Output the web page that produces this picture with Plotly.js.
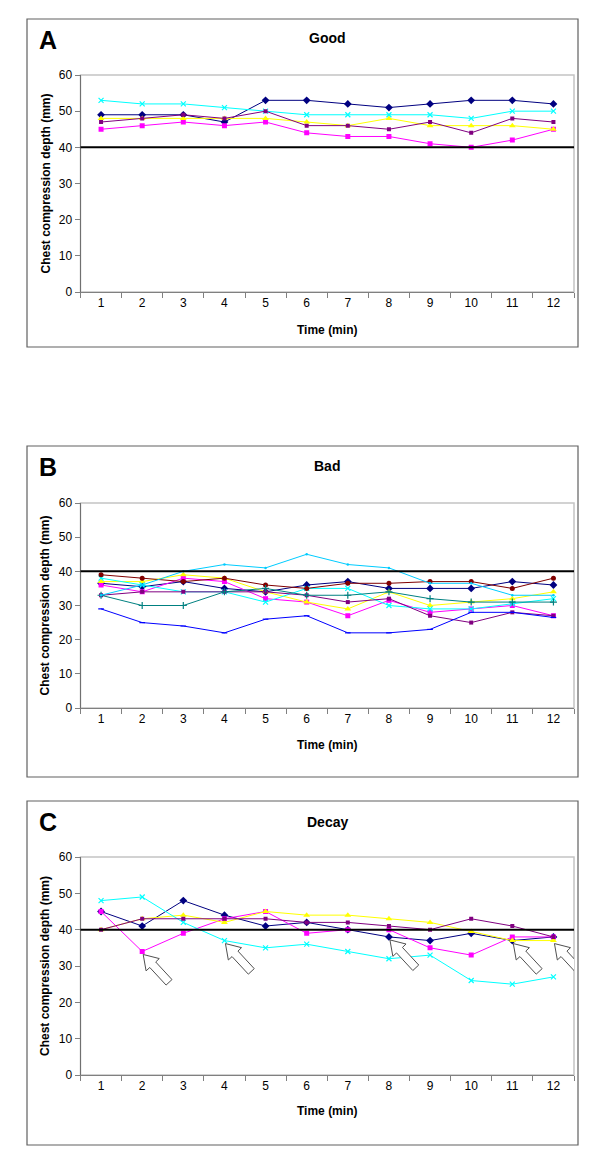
<!DOCTYPE html>
<html>
<head>
<meta charset="utf-8">
<script src="https://cdn.plot.ly/plotly-3.0.1.min.js"></script>
<style>html,body{margin:0;padding:0;background:#fff;}#chart{width:600px;height:1156px;}</style>
</head>
<body>
<div id="chart"></div>
<script>
// ---------- DATA ----------
const minutes = [1,2,3,4,5,6,7,8,9,10,11,12];
const yTicks = [0,10,20,30,40,50,60];
const threshold = 40;
const panelLetters = ['A','B','C'];
const panelTitles = ['Good','Bad','Decay'];
const xTitle = 'Time (min)';
const yTitle = 'Chest compression depth (mm)';

// Panel A (Good)
const goodNavy    = [49,49,49,47,53,53,52,51,52,53,53,52];
const goodMagenta = [45,46,47,46,47,44,43,43,41,40,42,45];
const goodYellow  = [48,48,48,48,48,47,46,48,46,46,46,45];
const goodCyan    = [53,52,52,51,50,49,49,49,49,48,50,50];
const goodPurple  = [47,48,49,48,50,46,46,45,47,44,48,47];

// Panel B (Bad)
const badNavy    = [36.5,35.5,37,35,34,36,37,35,35,35,37,36];
const badMagenta = [36,34,38,37,32,31,27,31.5,28,29,30,27];
const badYellow  = [37,37,39,38,34,31,29,34,30,31,32,34];
const badCyan    = [38,36,34,34,31,35,35,30,29,29,30.5,32];
const badPurple  = [33,34,34,34,34,33,31,32,27,25,28,27];
const badDarkRed = [39,38,37,38,36,35,36.5,36.5,37,37,35,38];
const badTeal    = [33,30,30,34,35,33,33,34,32,31,31,31];
const badBlue    = [29,25,24,22,26,27,22,22,23,28,28,26.5];
const badSky     = [33,36,40,42,41,45,42,41,36.5,36.5,33,33];

// Panel C (Decay)
const decayNavy    = [45,41,48,44,41,42,40,38,37,39,37,38];
const decayMagenta = [45,34,39,43,45,39,40,40,35,33,38,38];
const decayYellow  = [40,43,44,42,45,44,44,43,42,39.5,37,37];
const decayCyan    = [48,49,42,37,35,36,34,32,33,26,25,27];
const decayPurple  = [40,43,43,43,43,42,42,41,40,43,41,38];

// Arrows in panel C point at these (minute, depth) points
const arrowMinutes = [2,4,8,11,12];
const arrowDepths  = [34,37,38,37,37];

// ---------- STYLES ----------
const S = {
  navy:    {color:'#000080', symbol:'diamond', size:6},
  magenta: {color:'#FF00FF', symbol:'square', size:5},
  yellow:  {color:'#FFFF00', symbol:'triangle-up', size:6},
  cyan:    {color:'#00FFFF', symbol:'x-thin-open', size:5, lw:1.2},
  purple:  {color:'#800080', symbol:'square', size:4},
  darkred: {color:'#800000', symbol:'circle', size:5},
  teal:    {color:'#008080', symbol:'cross-thin-open', size:5, lw:1.2},
  blue:    {color:'#0000FF', symbol:'line-ew-open', size:4, lw:1.2},
  sky:     {color:'#00CCFF', symbol:'circle', size:2.5}
};

const panelsSeries = [
  [[goodNavy,'navy'],[goodMagenta,'magenta'],[goodYellow,'yellow'],[goodCyan,'cyan'],[goodPurple,'purple']],
  [[badNavy,'navy'],[badMagenta,'magenta'],[badYellow,'yellow'],[badCyan,'cyan'],[badPurple,'purple'],
   [badDarkRed,'darkred'],[badTeal,'teal'],[badBlue,'blue'],[badSky,'sky']],
  [[decayNavy,'navy'],[decayMagenta,'magenta'],[decayYellow,'yellow'],[decayCyan,'cyan'],[decayPurple,'purple']]
];

// ---------- LAYOUT GEOMETRY (pixels) ----------
const W = 600, H = 1156;
const geo = [
  {box:[27,19,578,347],  plot:[80.5,75,574,292],  title:38,  letter:40,  xlab:330},
  {box:[27,446,578,777], plot:[80.5,503,574,708], title:466, letter:467, xlab:745},
  {box:[27,801,578,1145],plot:[80.5,857,574,1075],title:822, letter:822, xlab:1111}
];
const FONT = 'Liberation Sans, Arial, Helvetica, sans-serif';
const px = v => v / W;
const py = v => 1 - v / H;

const data = [];
const layout = {
  width: W, height: H,
  margin: {l:0, r:0, t:0, b:0},
  paper_bgcolor: '#fff', plot_bgcolor: '#fff',
  showlegend: false,
  font: {family: FONT, size: 12, color: '#000'},
  shapes: [], annotations: []
};

geo.forEach((g, i) => {
  const sfx = i === 0 ? '' : String(i + 1);
  const xName = 'x' + sfx, yName = 'y' + sfx;
  // traces
  panelsSeries[i].forEach(([vals, key]) => {
    const st = S[key];
    data.push({
      type: 'scatter', mode: 'lines+markers',
      x: minutes, y: vals, xaxis: xName, yaxis: yName,
      line: {color: st.color, width: 1},
      marker: {color: st.color, symbol: st.symbol, size: st.size,
               line: {color: st.color, width: st.lw || 0}},
      hoverinfo: 'skip'
    });
  });
  // axes
  layout['xaxis' + sfx] = {
    domain: [px(g.plot[0]), px(g.plot[2])],
    anchor: yName,
    range: [0.5, 12.5],
    tickmode: 'array', tickvals: minutes, ticktext: minutes.map(String),
    ticks: '', showgrid: false, zeroline: false,
    showline: true, linecolor: '#808080', linewidth: 1,
    tickfont: {family: FONT, size: 12, color: '#000'},
    minor: {tick0: 0.5, dtick: 1, ticks: 'outside', ticklen: 5, tickcolor: '#808080', tickwidth: 1, showgrid: false},
    fixedrange: true
  };
  layout['yaxis' + sfx] = {
    domain: [py(g.plot[3]), py(g.plot[1])],
    anchor: xName,
    range: [0, 60],
    tickmode: 'array', tickvals: yTicks,
    ticks: 'outside', ticklen: 5, tickcolor: '#808080',
    showgrid: false, zeroline: false,
    showline: true, linecolor: '#707070', linewidth: 1,
    tickfont: {family: FONT, size: 12, color: '#000'},
    fixedrange: true
  };
  // outer box
  layout.shapes.push({type:'rect', xref:'paper', yref:'paper',
    x0: px(g.box[0]), x1: px(g.box[2]), y0: py(g.box[3]), y1: py(g.box[1]),
    line: {color:'#606060', width: 1.2}, layer: 'below'});
  // plot-area border
  layout.shapes.push({type:'rect', xref: xName + ' domain', yref: yName + ' domain',
    x0: 0, x1: 1, y0: 0, y1: 1, line: {color:'#C4C4C4', width: 1.5}, layer: 'below'});
  // threshold line
  layout.shapes.push({type:'line', xref: xName + ' domain', yref: yName,
    x0: 0, x1: 1, y0: threshold, y1: threshold, line: {color:'#000', width: 2}, layer:'above'});
  // annotations
  const cx = px((g.plot[0] + g.plot[2]) / 2);
  const cy = py((g.plot[1] + g.plot[3]) / 2);
  layout.annotations.push({xref:'paper', yref:'paper', x: cx, y: py(g.title), text: '<b>' + panelTitles[i] + '</b>',
    showarrow:false, xanchor:'center', yanchor:'middle', font:{family:FONT, size:14, color:'#000'}});
  layout.annotations.push({xref:'paper', yref:'paper', x: px(48), y: py(g.letter), text: '<b>' + panelLetters[i] + '</b>',
    showarrow:false, xanchor:'center', yanchor:'middle', font:{family:FONT, size:25, color:'#000'}});
  layout.annotations.push({xref:'paper', yref:'paper', x: cx, y: py(g.xlab), text: '<b>' + xTitle + '</b>',
    showarrow:false, xanchor:'center', yanchor:'middle', font:{family:FONT, size:12, color:'#000'}});
  layout.annotations.push({xref:'paper', yref:'paper', x: px(45), y: cy, text: '<b>' + yTitle + '</b>',
    textangle: -90, showarrow:false, xanchor:'center', yanchor:'middle', font:{family:FONT, size:12, color:'#000'}});
});

// ---------- ARROWS (panel C) ----------
function arrowPath(ox, oy) {
  const L = 38, HL = 14, HW = 9, SW = 4;
  const dx = -26, dy = 28, len = Math.hypot(dx, dy);
  const d = [dx/len, dy/len];       // tail -> tip (pixel, y up)
  const n = [d[1], -d[0]];          // perpendicular
  const pts = [[0,0],[-HL,HW],[-HL,SW],[-L,SW],[-L,-SW],[-HL,-SW],[-HL,-HW]];
  return pts.map((p, k) => {
    const X = ox + p[0]*d[0] + p[1]*n[0];
    const Y = oy + p[0]*d[1] + p[1]*n[1];
    return (k === 0 ? 'M' : 'L') + X.toFixed(1) + ',' + Y.toFixed(1);
  }).join(' ') + ' Z';
}
arrowMinutes.forEach((m, k) => {
  layout.shapes.push({type:'path', xref:'x3', yref:'y3',
    xsizemode:'pixel', ysizemode:'pixel', xanchor: m, yanchor: arrowDepths[k],
    path: arrowPath(1, -3),
    fillcolor:'#ffffff', line:{color:'#505050', width:1}, layer:'above'});
});

Plotly.newPlot('chart', data, layout, {displayModeBar:false, staticPlot:true});
</script>
</body>
</html>
